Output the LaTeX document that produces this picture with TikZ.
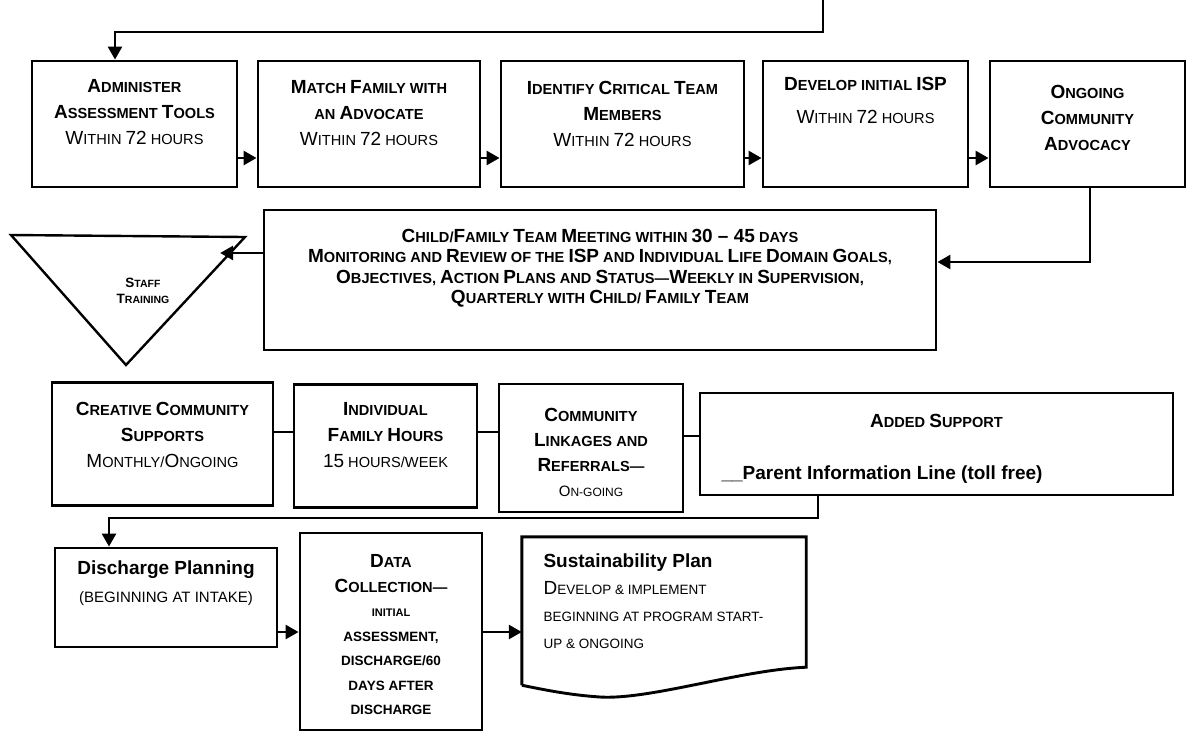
\documentclass[tikz,border=0pt]{standalone}
\usepackage{fontspec}
\setmainfont{Liberation Sans}
\usetikzlibrary{calc,arrows.meta}
% capital letter in the small caps lines
\newcommand\C[2][19]{{\fontsize{#1}{\baselineskip}\selectfont#2}}

\begin{document}
\begin{tikzpicture}[x=1pt,y=-1pt,
  box/.style={draw,line width=2.9pt,inner sep=0pt},
  txt/.style={align=center,font=\fontsize{14.6}{26}\selectfont\bfseries},
  arr/.style={line width=2.7pt,-{Triangle[length=13pt,width=14pt]}},
  link/.style={line width=2.7pt}]
  \useasboundingbox (0,0) rectangle (1190,732);
  % first row
  \node[box,minimum width=205pt,minimum height=126pt](A) at (134.5,124){};
  \node[box,minimum width=222pt,minimum height=126pt](B) at (369,124){};
  \node[box,minimum width=243pt,minimum height=126pt](C) at (622.5,124){};
  \node[box,minimum width=205pt,minimum height=126pt](D) at (865.5,124){};
  \node[box,minimum width=195pt,minimum height=126pt](E) at (1087.5,124){};
  \node[txt](At) at (134.5,112){\C{A}DMINISTER\\\C{A}SSESSMENT \C{T}OOLS\\{\mdseries\C{W}ITHIN \C{72} HOURS}};
  \node[txt](Bt) at (369,113){\C{M}ATCH \C{F}AMILY WITH\\AN \C{A}DVOCATE\\{\mdseries\C{W}ITHIN \C{72} HOURS}};
  \node[txt](Ct) at (622.5,114){\C{I}DENTIFY \C{C}RITICAL \C{T}EAM\\\C{M}EMBERS\\{\mdseries\C{W}ITHIN \C{72} HOURS}};
  \node[txt,font=\fontsize{14.6}{33}\selectfont\bfseries](Dt) at (865.5,100){\C{D}EVELOP INITIAL \C{ISP}\\{\mdseries\C{W}ITHIN \C{72} HOURS}};
  \node[txt](Et) at (1087.5,118){\C{O}NGOING\\\C{C}OMMUNITY\\\C{A}DVOCACY};
  \coordinate(in) at (823,0);
  \coordinate(fb) at (115,32);
  \coordinate(r1) at (0,158);
  \draw[arr](in)|-(fb)--(fb|-A.north);
  \draw[arr](A.east|-r1)--(B.west|-r1);
  \draw[arr](B.east|-r1)--(C.west|-r1);
  \draw[arr](C.east|-r1)--(D.west|-r1);
  \draw[arr](D.east|-r1)--(E.west|-r1);
  % team meeting and staff training
  \node[box,minimum width=672pt,minimum height=140pt](M) at (600,280){};
  \node[txt,font=\fontsize{14.6}{20.5}\selectfont\bfseries](Mt) at (600,268){\C{C}HILD/\C{F}AMILY \C{T}EAM \C{M}EETING WITHIN \C{30 -- 45} DAYS\\
    \C{M}ONITORING AND \C{R}EVIEW OF THE \C{ISP} AND \C{I}NDIVIDUAL \C{L}IFE \C{D}OMAIN \C{G}OALS,\\
    \C{O}BJECTIVES, \C{A}CTION \C{P}LANS AND \C{S}TATUS---\C{W}EEKLY IN \C{S}UPERVISION,\\
    \C{Q}UARTERLY WITH \C{C}HILD/ \C{F}AMILY \C{T}EAM};
  \coordinate(T1) at (11,235);
  \coordinate(T2) at (245,237);
  \coordinate(T3) at (126,365);
  \coordinate(tr) at ($(T2)!0.125!(T3)+(-10,0)$);
  \draw[line width=2.4pt,line join=miter](T1)--(T2)--(T3)--cycle;
  \node[txt,font=\fontsize{10.5}{16}\selectfont\bfseries](Tt) at (143,291){\C[13.5]{S}TAFF\\\C[13.5]{T}RAINING};
  \draw[arr]($(E.south)+(2.5,0)$)|-($(M.east)+(0,-18)$);
  \draw[arr](M.west|-tr)--(tr);
  % third row
  \node[box,minimum width=221pt,minimum height=123pt](F) at (162.5,444){};
  \node[box,minimum width=183pt,minimum height=123pt](G) at (385.5,446){};
  \node[box,minimum width=184pt,minimum height=128pt](H) at (591,448){};
  \node[box,minimum width=473pt,minimum height=102pt](K) at (936.5,444){};
  \node[txt](Ft) at (162.5,435){\C{C}REATIVE \C{C}OMMUNITY\\\C{S}UPPORTS\\{\mdseries\C{M}ONTHLY/\C{O}NGOING}};
  \node[txt](Gt) at (385.5,435){\C{I}NDIVIDUAL\\\C{F}AMILY \C{H}OURS\\{\mdseries\C{15} HOURS/WEEK}};
  \node[txt,font=\fontsize{14.6}{25}\selectfont\bfseries](Ht) at (591,452){\C{C}OMMUNITY\\\C{L}INKAGES AND\\\C{R}EFERRALS---\\{\mdseries\fontsize{12}{25}\selectfont\C[15]{O}N-GOING}};
  \node[txt](Kt) at (936.5,421){\C{A}DDED \C{S}UPPORT};
  \node[txt,anchor=west,font=\fontsize{19}{22}\selectfont\bfseries](Kp) at (718,475){\_\_Parent Information Line (toll free)};
  \coordinate(r3) at (0,432);
  \draw[link](F.east|-r3)--(G.west|-r3);
  \draw[link](G.east|-r3)--(H.west|-r3);
  \coordinate(r3b) at (0,436);
  \draw[link](H.east|-r3b)--(K.west|-r3b);
  % last row
  \node[box,minimum width=222pt,minimum height=99pt](P) at (166,597.5){};
  \node[box,minimum width=182pt,minimum height=197pt](Q) at (391,631.5){};
  \node[minimum width=284pt,minimum height=148pt,inner sep=0pt](S) at (664,611){};
  \draw[box,line join=miter](S.south west)--(S.north west)--(S.north east)--($(S.south east)+(0,-18)$)
    .. controls (740,670) and (650,700) .. (600,697)
    .. controls (570,695) and (545,690) .. (S.south west);
  \node[txt,font=\fontsize{19}{28}\selectfont\bfseries](Pt) at (166,583){Discharge Planning\\{\mdseries\fontsize{15}{28}\selectfont(BEGINNING AT INTAKE)}};
  \node[txt,font=\fontsize{13.5}{24.5}\selectfont\bfseries](Qt) at (391,635){\fontsize{14.6}{24.5}\selectfont\C{D}ATA\\\fontsize{14.6}{24.5}\selectfont\C{C}OLLECTION---\\{\fontsize{11}{24.5}\selectfont INITIAL}\\ASSESSMENT,\\DISCHARGE/60\\DAYS AFTER\\DISCHARGE};
  \node[txt,align=left,anchor=west,font=\fontsize{13.5}{27}\selectfont\mdseries](St) at (540,601){{\bfseries\fontsize{19}{27}\selectfont Sustainability Plan}\\\C{D}EVELOP \& IMPLEMENT\\BEGINNING AT PROGRAM START-\\UP \& ONGOING};
  \coordinate(dl) at (109,518);
  \coordinate(r4) at (0,632);
  \draw[arr]($(K.south)+(-118.5,0)$)|-(dl)--(dl|-P.north);
  \draw[arr](P.east|-r4)--(Q.west|-r4);
  \draw[arr](Q.east|-r4)--(S.west|-r4);
\end{tikzpicture}
\end{document}
